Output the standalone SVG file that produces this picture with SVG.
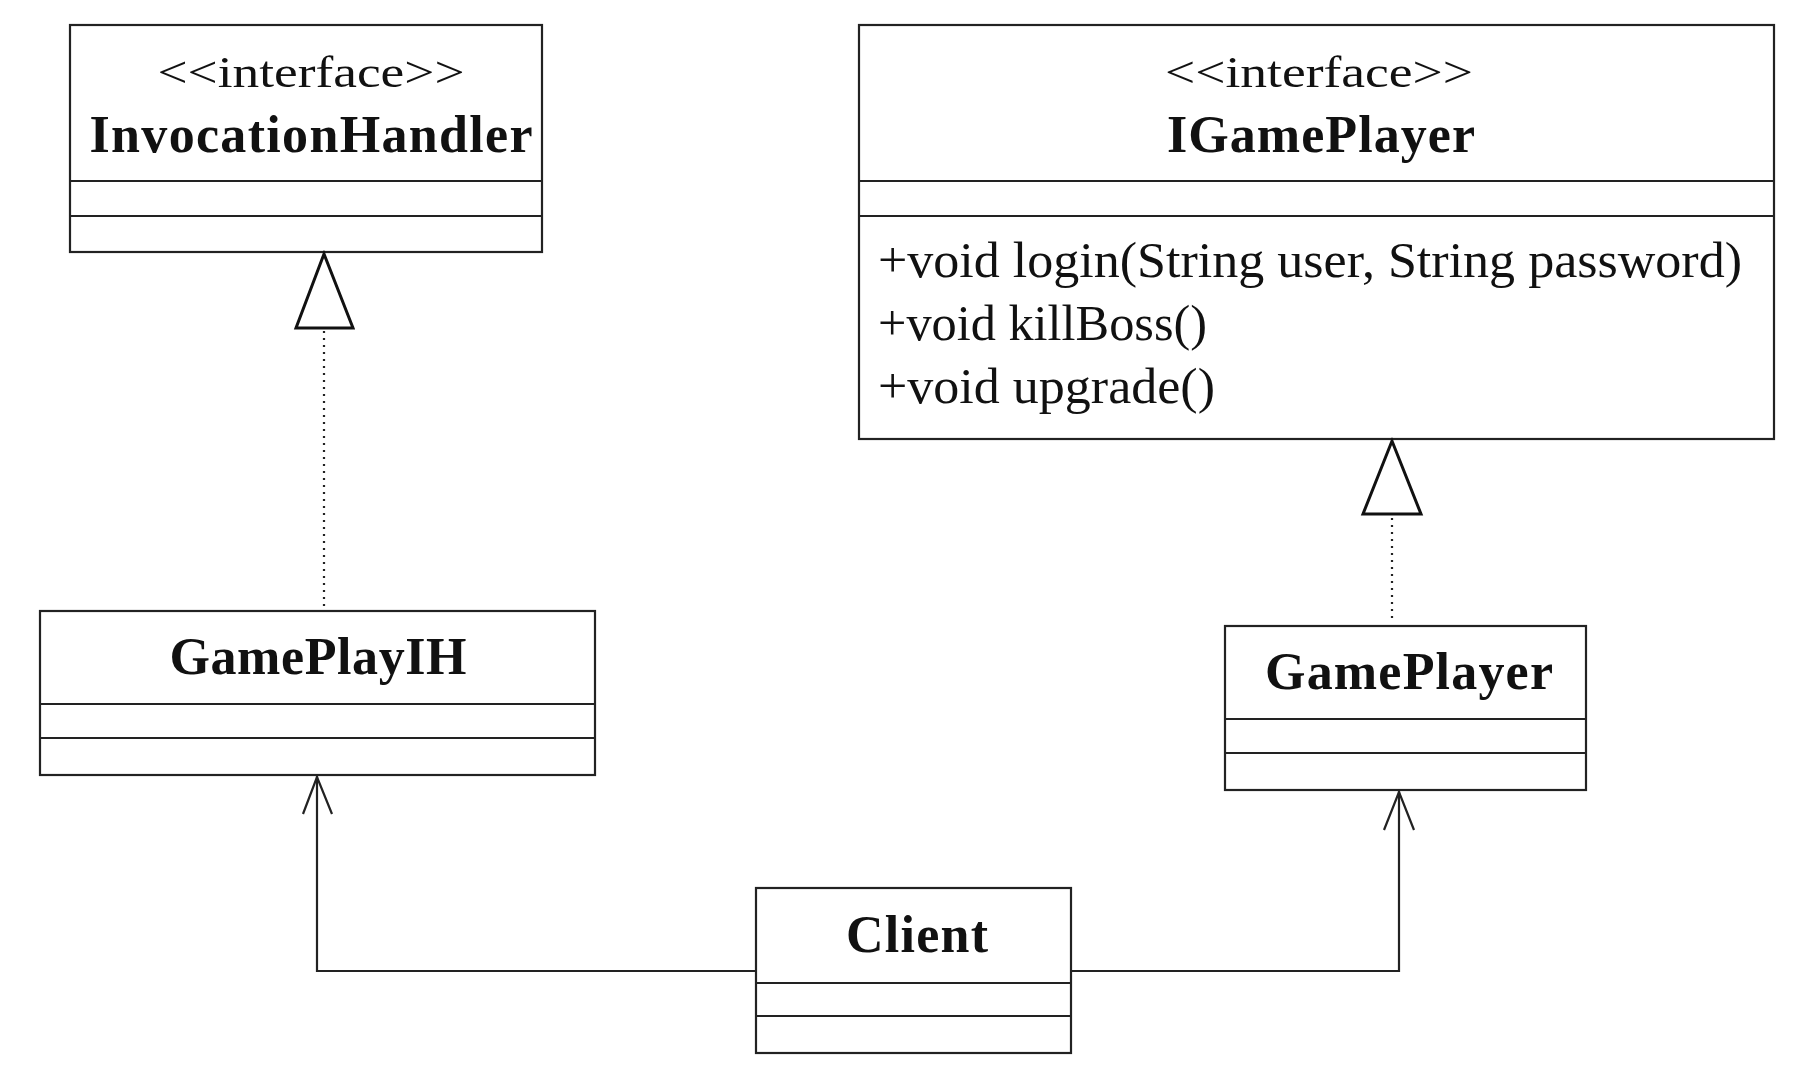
<svg xmlns="http://www.w3.org/2000/svg" width="1806" height="1080" viewBox="0 0 1806 1080">
<style>
.box{fill:#fff;stroke:#222;stroke-width:2.2}
.div{stroke:#222;stroke-width:2.2}
.t{font-family:"Liberation Serif","Times New Roman",serif;fill:#111}
.st{font-size:44px}
.nm{font-size:52px;font-weight:bold}
.m{font-size:51px}
.conn{fill:none;stroke:#222;stroke-width:2.2}
.dot{fill:none;stroke:#222;stroke-width:2.2;stroke-dasharray:2 5}
.tri{fill:#fff;stroke:#111;stroke-width:3;stroke-linejoin:miter}
</style>
<rect width="1806" height="1080" fill="#fff"/>

<g id="InvocationHandler">
<rect class="box" x="70" y="25" width="472" height="227"/>
<line class="div" x1="70" y1="181" x2="542" y2="181"/>
<line class="div" x1="70" y1="216" x2="542" y2="216"/>
<text class="t st" x="311" y="87" text-anchor="middle" textLength="307" lengthAdjust="spacingAndGlyphs">&lt;&lt;interface&gt;&gt;</text>
<text class="t nm" x="311" y="152" text-anchor="middle" textLength="443" lengthAdjust="spacing">InvocationHandler</text>
</g>

<g id="IGamePlayer">
<rect class="box" x="859" y="25" width="915" height="414"/>
<line class="div" x1="859" y1="181" x2="1774" y2="181"/>
<line class="div" x1="859" y1="216" x2="1774" y2="216"/>
<text class="t st" x="1319" y="87" text-anchor="middle" textLength="308" lengthAdjust="spacingAndGlyphs">&lt;&lt;interface&gt;&gt;</text>
<text class="t nm" x="1321" y="152" text-anchor="middle" textLength="308" lengthAdjust="spacing">IGamePlayer</text>
<text class="t m" x="878" y="277" textLength="864" lengthAdjust="spacingAndGlyphs">+void login(String user, String password)</text>
<text class="t m" x="878" y="340" textLength="329" lengthAdjust="spacingAndGlyphs">+void killBoss()</text>
<text class="t m" x="878" y="403" textLength="337" lengthAdjust="spacingAndGlyphs">+void upgrade()</text>
</g>

<g id="GamePlayIH">
<rect class="box" x="40" y="611" width="555" height="164"/>
<line class="div" x1="40" y1="704" x2="595" y2="704"/>
<line class="div" x1="40" y1="738" x2="595" y2="738"/>
<text class="t nm" x="318" y="674" text-anchor="middle" textLength="297" lengthAdjust="spacing">GamePlayIH</text>
</g>

<g id="GamePlayer">
<rect class="box" x="1225" y="626" width="361" height="164"/>
<line class="div" x1="1225" y1="719" x2="1586" y2="719"/>
<line class="div" x1="1225" y1="753" x2="1586" y2="753"/>
<text class="t nm" x="1409" y="689" text-anchor="middle" textLength="288" lengthAdjust="spacing">GamePlayer</text>
</g>

<g id="Client">
<rect class="box" x="756" y="888" width="315" height="165"/>
<line class="div" x1="756" y1="983" x2="1071" y2="983" stroke="#999"/>
<line class="div" x1="756" y1="1016" x2="1071" y2="1016"/>
<text class="t nm" x="917" y="952" text-anchor="middle" textLength="142" lengthAdjust="spacing">Client</text>
</g>

<g id="connectors">
<line class="dot" x1="324" y1="331" x2="324" y2="608"/>
<polygon class="tri" points="324,254 296,328 353,328"/>
<line class="dot" x1="1392" y1="518" x2="1392" y2="622"/>
<polygon class="tri" points="1392,441 1363,514 1421,514"/>
<polyline class="conn" points="756,971 317,971 317,776"/>
<polyline class="conn" points="303,814 317,777 332,814"/>
<polyline class="conn" points="1071,971 1399,971 1399,791"/>
<polyline class="conn" points="1384,830 1399,792 1414,830"/>
</g>
</svg>
